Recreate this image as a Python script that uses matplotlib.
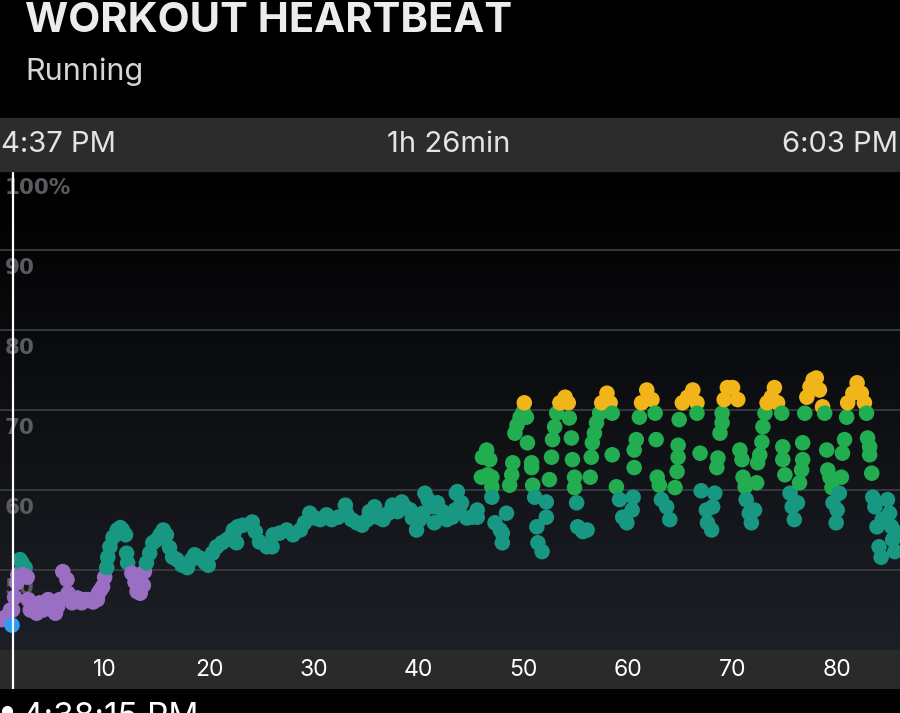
import numpy as np
import matplotlib
matplotlib.use('Agg')
import matplotlib.pyplot as plt
from matplotlib.colors import LinearSegmentedColormap
from matplotlib.lines import Line2D

plt.rcParams['font.family'] = ['Inter', 'DejaVu Sans']

# heart rate samples: minutes since 4:37 PM, percent of max heart rate
minutes = [
    0.2, 0.5, 1.0, 1.2, 1.4, 1.6, 1.7, 1.9, 1.9, 2.1, 2.4, 2.2, 2.6, 2.7, 2.9,
    3.2, 3.5, 3.8, 4.1, 4.6, 5.0, 5.3, 5.5, 5.7, 6.0, 6.4, 6.5, 6.9, 7.2, 7.4,
    7.8, 8.1, 8.4, 8.9, 9.3, 9.4, 9.6, 9.8, 10.0, 10.2, 10.3, 10.5, 10.8, 11.2,
    11.5, 11.7, 12.0, 12.1, 12.2, 12.6, 12.9, 13.1, 13.4, 13.7, 13.8, 14.0,
    14.3, 14.6, 15.0, 15.3, 15.6, 15.9, 16.2, 16.5, 16.9, 17.4, 17.9, 18.3,
    18.6, 19.1, 19.6, 19.9, 20.3, 20.7, 21.2, 21.7, 22.0, 22.4, 22.7,
    22.3, 22.6, 23.2, 24.1, 24.4, 24.8, 25.5, 26.0, 26.1, 26.7, 27.4, 28.0,
    28.7, 29.1, 29.6, 30.1, 30.6, 31.2, 31.7, 32.3, 33.0, 33.1, 33.6, 34.1,
    34.6, 35.1, 35.3, 35.8, 36.1, 36.6, 37.1, 37.5, 38.0, 38.4, 38.7, 39.2,
    39.4, 39.8, 40.1, 40.4, 40.6, 40.9, 41.4, 41.5, 41.8, 42.3, 42.7, 43.2,
    43.5, 43.7, 44.1, 44.6, 45.1, 45.6,
    43.6, 43.9, 45.6, 46.0, 46.1, 46.5, 46.8, 46.6, 47.0, 47.0, 47.0,
    47.3, 47.8, 48.0, 48.0, 48.4, 48.7, 48.9, 49.0, 49.2, 49.4, 49.7, 50.0,
    50.3, 50.1, 50.4, 50.8, 50.8, 50.9, 51.1, 51.3, 51.4, 51.8, 52.2, 52.2,
    52.5, 52.7, 52.8, 53.0, 53.2, 53.5, 54.0, 54.3, 54.4, 54.6, 54.7, 54.9,
    54.9, 55.1, 55.2, 55.7, 56.1, 56.4, 56.5, 56.6, 56.8, 57.0, 57.3, 57.5,
    58.0, 58.3, 58.5, 58.5, 58.9, 59.2, 59.5, 59.9, 60.4, 60.5, 60.6, 60.6,
    60.8, 61.1, 61.3, 61.8, 62.3, 62.6, 62.7, 62.8, 63.0, 63.2, 63.7, 64.0,
    64.5, 64.7, 64.8, 64.8, 64.9, 65.2, 65.7, 66.2, 66.6, 66.6, 66.9, 67.0,
    67.5, 67.6, 68.0, 68.1, 68.3, 68.5, 68.6, 68.8, 69.0, 69.0, 69.2, 69.5,
    70.0, 70.5, 70.7, 70.9, 71.0, 71.2, 71.3, 71.6, 71.8, 72.1, 72.3, 72.4,
    72.6, 72.8, 72.9, 73.1, 73.3, 73.7, 74.0, 74.3, 74.7, 74.8, 74.8, 75.0,
    75.5, 75.7, 75.9, 76.2, 76.4, 76.6, 76.7, 76.7, 76.9, 77.1, 77.4, 77.7,
    78.0, 78.3, 78.6, 78.8, 79.0, 79.1, 79.3, 79.5, 79.6, 79.9, 80.0, 80.2,
    80.4, 80.5, 80.7, 80.9, 81.0, 81.5, 81.9, 82.3, 82.6, 82.8, 82.9, 83.1,
    83.1, 83.3, 83.4, 83.6, 83.8, 84.0, 84.2, 84.3, 84.8, 85.0, 85.2, 85.3,
    85.5, 85.7,
]
percent = [
    43.8, 44.1, 45.0, 45.0, 46.6, 48.4, 49.4, 49.6, 51.3, 50.9, 50.3, 49.4,
    49.1, 46.3, 45.0, 45.4, 44.6, 45.9, 45.0, 46.3, 45.0, 44.6, 45.4, 46.3,
    49.8, 48.8, 47.1, 45.9, 46.3, 46.5, 45.9, 46.3, 46.3, 46.0, 46.3, 47.1,
    47.5, 47.9, 49.1, 50.3, 51.6, 52.9, 54.1, 55.0, 55.3, 55.0, 54.4, 52.1,
    50.9, 49.6, 48.5, 47.3, 47.1, 48.1, 49.8, 50.9, 52.1, 53.4, 53.8, 54.4,
    55.0, 54.4, 52.8, 51.6, 51.3, 50.6, 50.3, 51.3, 51.9, 51.5, 50.9, 50.6,
    52.1, 52.9, 53.4, 53.8, 54.1, 54.8, 55.4,
    55.0, 53.4, 55.6, 56.0, 54.8, 53.5, 52.9, 52.9, 54.4, 54.6, 55.0, 54.4,
    55.0, 55.9, 57.1, 56.5, 56.3, 56.9, 56.3, 56.6, 58.1, 57.1, 56.3, 55.9,
    55.6, 56.3, 57.3, 57.9, 56.6, 56.3, 57.1, 58.1, 57.3, 58.5, 57.9, 57.5,
    56.5, 55.0, 56.3, 57.1, 59.6, 58.8, 57.9, 55.9, 58.4, 57.3, 56.3, 56.6,
    57.5, 59.8, 58.4, 56.5, 56.6, 56.6,
    59.6, 57.9, 57.5, 61.6, 64.1, 65.0, 63.8, 61.9, 61.6, 60.4, 59.1,
    55.9, 55.0, 54.6, 53.4, 57.1, 60.6, 61.9, 63.4, 67.1, 68.1, 69.1, 69.8,
    69.1, 70.9, 65.9, 63.4, 62.8, 60.6, 59.1, 55.4, 53.4, 52.3, 56.6, 58.5,
    61.3, 64.1, 66.3, 67.9, 69.6, 70.9, 71.6, 70.9, 69.0, 66.5, 63.8, 61.6,
    60.3, 58.4, 55.4, 54.8, 55.0, 61.6, 64.1, 65.9, 67.1, 68.4, 69.6, 70.9,
    72.1, 70.9, 69.6, 64.4, 60.4, 58.8, 56.6, 55.9, 57.5, 59.1, 62.8, 65.0,
    66.3, 69.1, 70.9, 72.5, 71.3, 69.6, 66.3, 61.6, 60.6, 58.8, 57.9, 56.3,
    60.3, 62.3, 64.1, 65.6, 68.8, 70.9, 71.6, 72.5, 70.9, 69.6, 64.6, 59.9,
    57.5, 55.9, 55.0, 57.9, 59.6, 62.8, 64.0, 67.1, 68.4, 69.6, 71.3, 72.8,
    72.8, 71.3, 65.0, 63.8, 61.6, 60.4, 58.8, 57.1, 55.9, 57.5, 60.9, 63.4,
    64.4, 66.0, 67.9, 69.6, 70.9, 71.6, 72.8, 70.9, 69.6, 65.4, 63.8, 61.9,
    59.6, 57.9, 56.3, 58.4, 60.9, 62.5, 63.8, 65.9, 69.6, 71.6, 72.9, 73.8,
    74.0, 72.5, 70.4, 69.6, 65.0, 62.5, 61.6, 60.3, 58.4, 55.9, 57.5, 59.6,
    61.6, 64.6, 66.3, 69.1, 70.9, 72.1, 73.4, 72.1, 70.9, 69.6, 66.5, 65.4,
    64.4, 62.1, 59.1, 57.9, 55.4, 52.9, 51.6, 56.3, 58.8, 57.1, 55.4, 53.8,
    52.3, 54.6,
]

# selected sample under the cursor (4:38:15 PM)
sel_minute = 1.15
sel_percent = 43.1
cursor_minute = 1.25

zone_edges = [50, 60, 70]
zone_colors = ['#9a6fc3', '#189882', '#22ad50', '#f1b419']

y_ticks = [50, 60, 70, 80, 90, 100]
y_labels = ['50', '60', '70', '80', '90', '100%']
x_ticks = [10, 20, 30, 40, 50, 60, 70, 80]

minutes = np.array(minutes)
percent = np.array(percent)
colors = [zone_colors[np.searchsorted(zone_edges, p, side='right')] for p in percent]

W, H = 900, 713
fig = plt.figure(figsize=(9, 7.13), dpi=100, facecolor='black')

def fy(py):
    return 1 - py / H

# header band
fig.patches.append(plt.Rectangle((0, fy(171)), 1, (171 - 118) / H,
                                 transform=fig.transFigure, color='#2c2c2c', zorder=0))
fig.text(25 / W, fy(32), 'WORKOUT HEARTBEAT', color='#ececec', fontsize=30,
         fontweight='bold', va='baseline', ha='left')
fig.text(25 / W, fy(80), 'Running', color='#d6d6d6', fontsize=22,
         va='baseline', ha='left')
fig.text(1 / W, fy(145), '4:37 PM', color='#e4e4e4', fontsize=21, va='center', ha='left')
fig.text(449 / W, fy(145), '1h 26min', color='#e4e4e4', fontsize=21, va='center', ha='center')
fig.text(898 / W, fy(145), '6:03 PM', color='#e4e4e4', fontsize=21, va='center', ha='right')

# main plot
ax = fig.add_axes([0, fy(650), 1, (650 - 170) / H])
ax.set_xlim(0, 86)
ax.set_ylim(40, 100)
grad = np.linspace(0, 1, 256).reshape(-1, 1)
cmap = LinearSegmentedColormap.from_list('bg', ['#000000', '#1c1f26'])
ax.imshow(grad, cmap=cmap, aspect='auto', extent=(0, 86, 40, 100),
          origin='upper', zorder=0, vmin=0, vmax=1)
for v in y_ticks[:-1]:
    ax.axhline(v, color='#3c3f44', lw=1.2, zorder=1)
for v, lab in zip(y_ticks, y_labels):
    ax.text(0.45, v - 2.25, lab, color='#5a5b5f', fontsize=15.5, fontweight='bold',
            family='DejaVu Sans', va='center', ha='left', zorder=1)
ax.scatter(minutes, percent, s=125, c=colors, edgecolors='none', zorder=3)
ax.scatter([sel_minute], [sel_percent], s=125, c='#2f9bf4', edgecolors='none', zorder=4)
ax.axvline(cursor_minute, color='white', lw=1.6, zorder=5)
ax.set_axis_off()

# x axis band
bx = fig.add_axes([0, fy(689), 1, (689 - 650) / H], sharex=ax)
bx.set_facecolor('#2a2a2a')
bx.set_ylim(0, 1)
for t in x_ticks:
    bx.text(t, 0.48, str(t), color='white', fontsize=16.5, ha='center', va='center')
bx.axvline(cursor_minute, color='white', lw=1.6)
bx.set_xticks([])
bx.set_yticks([])
for s in bx.spines.values():
    s.set_visible(False)

# bottom readout (cut off by the image edge)
fig.text(22 / W, fy(702), '4:38:15 PM', color='white', fontsize=24, va='top', ha='left')
fig.lines.append(Line2D([7 / W], [fy(711)], marker='o', markersize=7, color='white',
                        transform=fig.transFigure))

fig.savefig('out.png', dpi=100, facecolor='black')
